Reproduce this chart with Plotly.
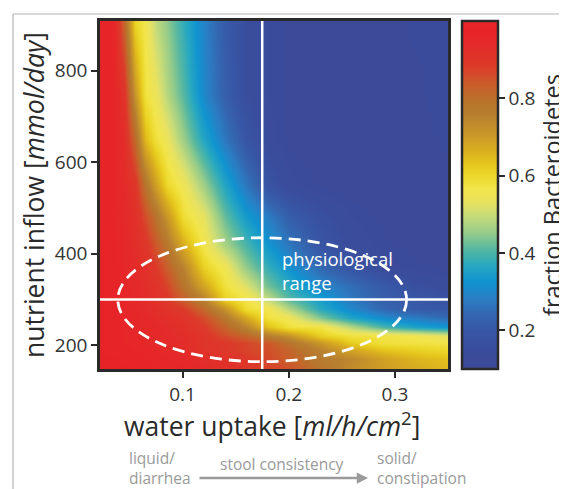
import plotly.graph_objects as go

# ---------------- data ----------------
water_uptake = [0.02, 0.035, 0.045, 0.055, 0.065, 0.075, 0.085, 0.10, 0.12, 0.14,
                0.16, 0.18, 0.20, 0.23, 0.26, 0.29, 0.32, 0.35]
nutrient_inflow = [150, 170, 190, 205, 220, 240, 260, 280, 300, 330, 370, 420, 480,
                   550, 650, 750, 900]

row_150 = [0.97, 0.97, 0.97, 0.965, 0.965, 0.96, 0.96, 0.955, 0.94, 0.92, 0.895, 0.87, 0.85, 0.785, 0.73, 0.695, 0.67, 0.65]
row_170 = [0.97, 0.97, 0.965, 0.965, 0.96, 0.96, 0.955, 0.95, 0.93, 0.915, 0.89, 0.865, 0.83, 0.77, 0.74, 0.69, 0.655, 0.64]
row_190 = [0.97, 0.965, 0.965, 0.96, 0.96, 0.955, 0.95, 0.94, 0.91, 0.89, 0.87, 0.855, 0.82, 0.75, 0.68, 0.635, 0.615, 0.60]
row_205 = [0.97, 0.965, 0.96, 0.96, 0.955, 0.95, 0.945, 0.935, 0.905, 0.89, 0.87, 0.845, 0.79, 0.71, 0.62, 0.58, 0.575, 0.57]
row_220 = [0.97, 0.965, 0.96, 0.96, 0.955, 0.95, 0.94, 0.93, 0.90, 0.86, 0.82, 0.77, 0.72, 0.62, 0.58, 0.575, 0.56, 0.53]
row_240 = [0.97, 0.965, 0.96, 0.955, 0.95, 0.945, 0.935, 0.92, 0.885, 0.82, 0.75, 0.64, 0.58, 0.57, 0.48, 0.40, 0.355, 0.33]
row_260 = [0.97, 0.965, 0.96, 0.955, 0.95, 0.935, 0.925, 0.91, 0.86, 0.78, 0.68, 0.58, 0.55, 0.44, 0.36, 0.31, 0.28, 0.25]
row_280 = [0.97, 0.965, 0.96, 0.955, 0.94, 0.925, 0.91, 0.885, 0.81, 0.72, 0.59, 0.56, 0.48, 0.37, 0.30, 0.24, 0.21, 0.20]
row_300 = [0.97, 0.965, 0.96, 0.95, 0.935, 0.915, 0.89, 0.83, 0.75, 0.61, 0.57, 0.49, 0.41, 0.34, 0.27, 0.215, 0.20, 0.18]
row_330 = [0.97, 0.965, 0.96, 0.945, 0.93, 0.91, 0.87, 0.79, 0.68, 0.58, 0.52, 0.43, 0.37, 0.30, 0.25, 0.21, 0.165, 0.15]
row_370 = [0.97, 0.965, 0.955, 0.94, 0.92, 0.885, 0.83, 0.75, 0.61, 0.55, 0.45, 0.38, 0.32, 0.24, 0.185, 0.145, 0.135, 0.13]
row_420 = [0.97, 0.965, 0.95, 0.93, 0.90, 0.84, 0.78, 0.67, 0.56, 0.47, 0.40, 0.33, 0.27, 0.19, 0.15, 0.135, 0.13, 0.13]
row_480 = [0.97, 0.96, 0.95, 0.92, 0.86, 0.79, 0.71, 0.59, 0.53, 0.42, 0.34, 0.28, 0.22, 0.17, 0.14, 0.13, 0.125, 0.13]
row_550 = [0.97, 0.96, 0.94, 0.90, 0.79, 0.69, 0.60, 0.55, 0.46, 0.36, 0.27, 0.185, 0.145, 0.13, 0.125, 0.12, 0.125, 0.13]
row_650 = [0.97, 0.96, 0.93, 0.81, 0.65, 0.58, 0.54, 0.46, 0.36, 0.27, 0.19, 0.145, 0.13, 0.125, 0.12, 0.125, 0.13, 0.135]
row_750 = [0.97, 0.96, 0.91, 0.71, 0.58, 0.54, 0.48, 0.41, 0.30, 0.22, 0.16, 0.14, 0.13, 0.125, 0.125, 0.13, 0.13, 0.14]
row_900 = [0.97, 0.96, 0.82, 0.61, 0.56, 0.49, 0.45, 0.38, 0.29, 0.21, 0.16, 0.14, 0.13, 0.13, 0.13, 0.13, 0.135, 0.14]

fraction_bacteroidetes = [row_150, row_170, row_190, row_205, row_220, row_240, row_260,
                          row_280, row_300, row_330, row_370, row_420, row_480, row_550,
                          row_650, row_750, row_900]

x_ticks = [0.1, 0.2, 0.3]
y_ticks = [200, 400, 600, 800]
cbar_ticks = [0.2, 0.4, 0.6, 0.8]

# physiological reference point and range
ref_water = 0.175
ref_nutrient = 300
range_water = [0.039, 0.311]
range_nutrient = [164, 435]

# ---------------- styling ----------------
colorscale = [
    [0.000, "#3c4a98"], [0.059, "#3a4c9c"], [0.107, "#3856a6"], [0.154, "#3466b0"],
    [0.202, "#2a7ec4"], [0.250, "#1094d0"], [0.298, "#28a8c0"], [0.346, "#58b8a0"],
    [0.393, "#98cc88"], [0.441, "#c8dc78"], [0.479, "#e8e260"], [0.518, "#f2e44a"],
    [0.556, "#ecd82a"], [0.593, "#e4c41c"], [0.631, "#d8ac20"], [0.678, "#c89628"],
    [0.727, "#b88030"], [0.767, "#b8742c"], [0.822, "#cc5a2a"], [0.871, "#dc3a2a"],
    [0.967, "#e82328"], [1.000, "#e8242a"],
]

FONT = "Open Sans"
DARK = "#2a2a2a"
GRAY = "#9a9a9a"

# page body has an 8px margin, so the figure is drawn 8px smaller and offset
fig = go.Figure()
fig.add_trace(go.Heatmap(
    x=water_uptake, y=nutrient_inflow, z=fraction_bacteroidetes,
    zsmooth="best", colorscale=colorscale, zmin=0.1, zmax=1.0,
    colorbar=dict(
        x=1.04, xanchor="left", xpad=0, y=0.5, yanchor="middle", ypad=0,
        len=1.0, lenmode="fraction", thickness=36,
        outlinewidth=2.5, outlinecolor=DARK,
        tickvals=cbar_ticks, ticktext=[f"{v:.1f}" for v in cbar_ticks],
        ticks="outside", ticklen=6, tickwidth=2, tickcolor=DARK,
        tickfont=dict(family=FONT, size=19, color="#333"),
    ),
    hoverinfo="skip",
))

fig.update_layout(
    width=559, height=481,
    margin=dict(l=92, r=119, t=13, b=120, autoexpand=False),
    paper_bgcolor="white", plot_bgcolor="white",
    font=dict(family=FONT, color="#333"),
    showlegend=False,
)
fig.update_xaxes(
    range=[0.0222, 0.35], tickvals=x_ticks, ticktext=[f"{v:.1f}" for v in x_ticks],
    showgrid=False, zeroline=False, showline=True, mirror=True,
    linecolor=DARK, linewidth=2.5, ticks="outside", ticklen=6, tickwidth=2,
    tickcolor=DARK, tickfont=dict(family=FONT, size=19, color="#333"),
)
fig.update_yaxes(
    range=[148, 909], tickvals=y_ticks,
    showgrid=False, zeroline=False, showline=True, mirror=True,
    linecolor=DARK, linewidth=2.5, ticks="outside", ticklen=6, tickwidth=2,
    tickcolor=DARK, tickfont=dict(family=FONT, size=19, color="#333"),
)

# white reference lines
fig.add_shape(type="line", xref="x", yref="paper", x0=ref_water, x1=ref_water, y0=0, y1=1,
              line=dict(color="white", width=2.5))
fig.add_shape(type="line", xref="paper", yref="y", x0=0, x1=1, y0=ref_nutrient, y1=ref_nutrient,
              line=dict(color="white", width=2.5))
# dashed physiological range ellipse
fig.add_shape(type="circle", xref="x", yref="y",
              x0=range_water[0], x1=range_water[1], y0=range_nutrient[0], y1=range_nutrient[1],
              line=dict(color="white", width=2.8, dash="12px,7px"))

# outer gray frame
fig.add_shape(type="line", xref="paper", yref="paper", x0=-0.250, x1=1.40, y0=1.0201, y1=1.0201,
              line=dict(color="#b4b4b4", width=1.2))
fig.add_shape(type="line", xref="paper", yref="paper", x0=-0.250, x1=-0.250, y0=1.0201, y1=-0.40,
              line=dict(color="#b4b4b4", width=1.2))

ann = []
ann.append(dict(text="physiological<br>range", x=0.1915, y=364, xref="x", yref="y",
                xanchor="left", yanchor="middle", showarrow=False, align="left",
                font=dict(family=FONT, size=18.5, color="white")))
ann.append(dict(text="water uptake [<i>ml/h/cm</i><sup>2</sup>]", x=0.494, y=-0.16,
                xref="paper", yref="paper", xanchor="center", yanchor="middle",
                showarrow=False, font=dict(family=FONT, size=26.5, color=DARK)))
ann.append(dict(text="nutrient inflow [<i>mmol/day</i>]", x=-0.19, y=0.5, textangle=-90,
                xref="paper", yref="paper", xanchor="center", yanchor="middle",
                showarrow=False, font=dict(family=FONT, size=26.5, color=DARK)))
ann.append(dict(text="fraction Bacteroidetes", x=(552 - 100) / 348, y=0.5, textangle=-90,
                xref="paper", yref="paper", xanchor="center", yanchor="middle",
                showarrow=False, font=dict(family=FONT, size=23.5, color=DARK)))
# stool consistency legend
ann.append(dict(text="liquid/<br>diarrhea", x=(127 - 100) / 348, y=(369 - 468) / 348,
                xref="paper", yref="paper", xanchor="left", yanchor="middle", align="left",
                showarrow=False, font=dict(family=FONT, size=15.5, color=GRAY)))
ann.append(dict(text="solid/<br>constipation", x=(375 - 100) / 348, y=(369 - 468) / 348,
                xref="paper", yref="paper", xanchor="left", yanchor="middle", align="left",
                showarrow=False, font=dict(family=FONT, size=15.5, color=GRAY)))
ann.append(dict(text="stool consistency", x=(282 - 100) / 348, y=(369 - 464) / 348,
                xref="paper", yref="paper", xanchor="center", yanchor="middle",
                showarrow=False, font=dict(family=FONT, size=15.5, color=GRAY)))
ann.append(dict(text="", x=(368 - 100) / 348, y=(369 - 478) / 348, xref="paper", yref="paper",
                ax=-170, ay=0, showarrow=True, arrowhead=2, arrowsize=0.9, arrowwidth=2.5,
                arrowcolor=GRAY))
fig.update_layout(annotations=ann)

fig.write_html("out.html")
